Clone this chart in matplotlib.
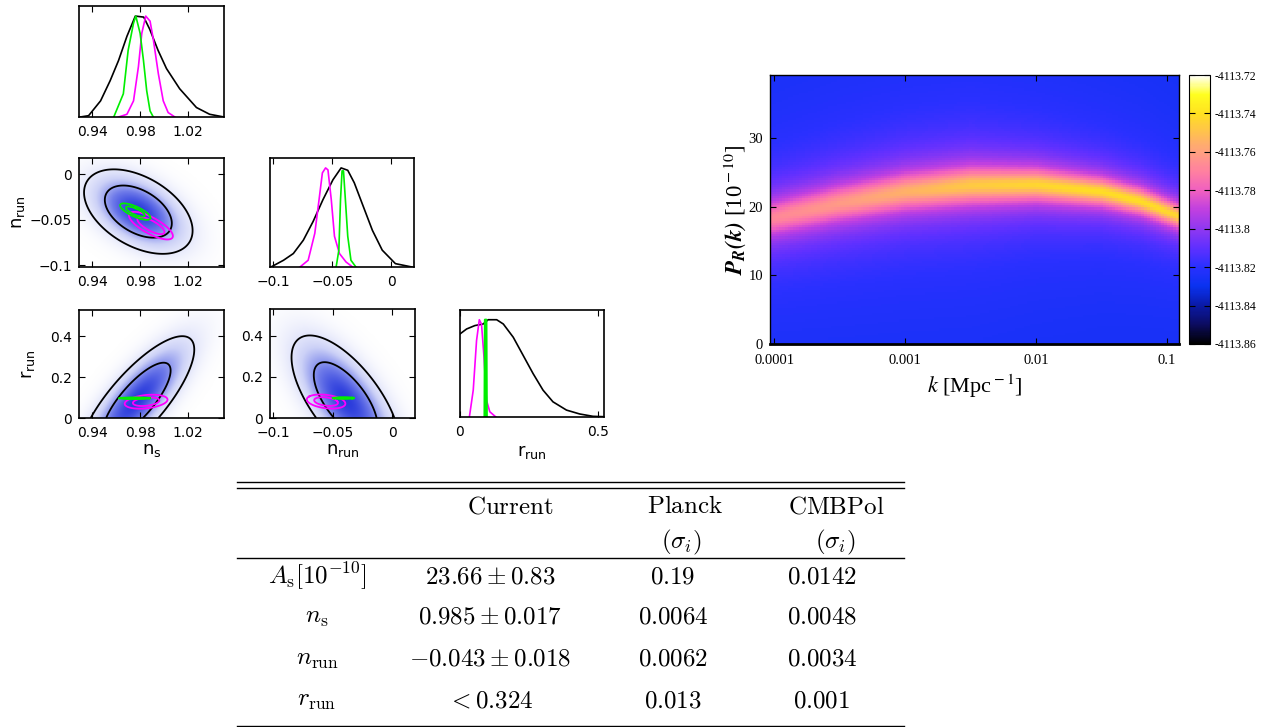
import numpy as np
import matplotlib.pyplot as plt
from matplotlib.colors import LinearSegmentedColormap
from matplotlib.ticker import FuncFormatter, NullLocator

W, H = 1267, 727

# ---- 1D marginals ----
ns_black_x = [0.930, 0.937, 0.947, 0.955, 0.962, 0.969, 0.976, 0.983, 0.988, 0.995, 1.002, 1.013, 1.027, 1.038, 1.050]
ns_black_y = [0.00, 0.013, 0.16, 0.36, 0.56, 0.80, 1.0, 0.99, 0.87, 0.66, 0.48, 0.28, 0.094, 0.027, 0.0]
ns_green_x = [0.958, 0.966, 0.970, 0.9745, 0.9764, 0.980, 0.9828, 0.9855, 0.9883, 0.991]
ns_green_y = [0.0, 0.23, 0.66, 0.93, 1.0, 0.83, 0.56, 0.26, 0.06, 0.0]
ns_mag_x = [0.962, 0.969, 0.9745, 0.9786, 0.9814, 0.9847, 0.9883, 0.991, 0.9952, 0.9993, 1.0034, 1.009]
ns_mag_y = [0.0, 0.027, 0.16, 0.50, 0.83, 1.0, 0.95, 0.77, 0.43, 0.16, 0.044, 0.0]

nrun_black_x = [-0.1017, -0.0911, -0.0828, -0.0744, -0.0661, -0.0578, -0.0494, -0.0425, -0.0369, -0.0314, -0.0244, -0.0161, -0.0078, 0.0033, 0.0172]
nrun_black_y = [0.0, 0.068, 0.136, 0.27, 0.46, 0.68, 0.88, 1.0, 0.976, 0.85, 0.63, 0.37, 0.17, 0.034, 0.0]
nrun_mag_x = [-0.0772, -0.0703, -0.0647, -0.0611, -0.0583, -0.0556, -0.0536, -0.0508, -0.0481, -0.0439, -0.0383, -0.0328]
nrun_mag_y = [0.0, 0.068, 0.34, 0.68, 0.95, 1.0, 0.98, 0.68, 0.31, 0.136, 0.05, 0.0]
nrun_green_x = [-0.0467, -0.0444, -0.043, -0.0417, -0.0405, -0.0389, -0.0369, -0.0342, -0.030]
nrun_green_y = [0.0, 0.17, 0.68, 0.97, 0.97, 0.68, 0.31, 0.068, 0.0]

r_black_x = [0.0, 0.024, 0.054, 0.084, 0.102, 0.133, 0.157, 0.193, 0.229, 0.265, 0.301, 0.337, 0.386, 0.434, 0.482, 0.522]
r_black_y = [0.854, 0.905, 0.94, 0.956, 1.0, 1.0, 0.956, 0.82, 0.633, 0.446, 0.276, 0.156, 0.071, 0.031, 0.007, 0.003]
r_mag_x = [0.034, 0.048, 0.060, 0.070, 0.078, 0.087, 0.096, 0.108, 0.130]
r_mag_y = [0.0, 0.276, 0.786, 1.0, 0.956, 0.616, 0.173, 0.054, 0.0]
r_green_x = [0.089, 0.0905, 0.0955, 0.097]
r_green_y = [0.0, 1.0, 1.0, 0.0]

# ---- 2D posteriors: (mean_x, mean_y, sigma_x, sigma_y, rho) ----
ns_nrun_black = (0.9785, -0.041, 0.0185, 0.019, -0.45)
ns_nrun_green = (0.976, -0.041, 0.0052, 0.0037, -0.75)
ns_nrun_mag = (0.989, -0.0565, 0.0075, 0.0062, -0.75)
# black r-panels: x | r ~ N(a + b r, s), r ~ N(mu, sig) cut at r = 0
ns_r_black = (0.967, 0.12, 0.0125, 0.085, 0.135)
nrun_r_black = (-0.031, -0.095, 0.0145, 0.085, 0.135)
ns_r_green = (0.9755, 0.097, 0.0052, 0.0015, 0.0)
ns_r_mag = (0.985, 0.08, 0.0073, 0.014, 0.3)
nrun_r_green = (-0.041, 0.097, 0.0037, 0.0015, 0.0)
nrun_r_mag = (-0.0555, 0.08, 0.0066, 0.014, -0.3)

ns_ticks = [0.94, 0.98, 1.02]
ns_labels = ['0.94', '0.98', '1.02']
nrun_ticks = [-0.1, -0.05, 0]
nrun_labels = ['\u22120.1', '\u22120.05', '0']
r_ticks = [0, 0.2, 0.4]
r_labels = ['0', '0.2', '0.4']

# ---- P_R(k) band ----
band_logk = [-4.03, -3.5, -3.0, -2.5, -2.0, -1.5, -1.2, -0.91]
band_center = [18.3, 20.5, 22.2, 23.1, 23.2, 22.2, 20.8, 18.6]
band_width = [2.3, 2.3, 2.2, 2.05, 1.75, 1.5, 1.4, 1.3]
band_peak = [-4113.768, -4113.762, -4113.755, -4113.747, -4113.743, -4113.741, -4113.741, -4113.743]
band_bg = -4113.829
k_ticks = [1e-4, 1e-3, 1e-2, 1e-1]
k_tick_labels = ['0.0001', '0.001', '0.01', '0.1']
P_ticks = [0, 10, 20, 30]
cbar_ticks = [-4113.86, -4113.84, -4113.82, -4113.80, -4113.78, -4113.76, -4113.74, -4113.72]

# ---- table ----
row_labels = [r'$A_{\rm s}[10^{-10}]$', r'$n_{\rm s}$', r'$n_{\rm run}$', r'$r_{\rm run}$']
current = [r'$23.66\pm0.83$', r'$0.985\pm0.017$', r'$-0.043\pm0.018$', r'$<0.324$']
planck = [r'$0.19$', r'$0.0064$', r'$0.0062$', r'$0.013$']
cmbpol = [r'$0.0142$', r'$0.0048$', r'$0.0034$', r'$0.001$']


def gauss2(X, Y, p):
    mx, my, sx, sy, rho = p
    dx = (X - mx) / sx
    dy = (Y - my) / sy
    return np.exp(-(dx * dx - 2 * rho * dx * dy + dy * dy) / (2 * (1 - rho * rho)))


def cond_dens(X, R, p):
    a, b, s, mu, sig = p
    return np.exp(-0.5 * ((X - a - b * R) / s) ** 2) * np.exp(-0.5 * ((R - mu) / sig) ** 2)


def mass_levels(Z):
    z = np.sort(Z.ravel())[::-1]
    c = np.cumsum(z) / z.sum()
    return [z[np.searchsorted(c, 0.95)], z[np.searchsorted(c, 0.68)]]


def small_contour(ax, p, color):
    mx, my, sx, sy, rho = p
    x = np.linspace(mx - 6 * sx, mx + 6 * sx, 240)
    y = np.linspace(my - 6 * sy, my + 6 * sy, 240)
    X, Y = np.meshgrid(x, y)
    Z = gauss2(X, Y, p)
    ax.contour(X, Y, Z, levels=mass_levels(Z), colors=color, linewidths=1.3)


blues = LinearSegmentedColormap.from_list('wb', ['#ffffff', '#ccd1f7', '#6f7be9', '#2a3bdc'])


def shade(ax, X, Y, Z):
    ax.imshow((Z / Z.max()) ** 0.6, extent=[X.min(), X.max(), Y.min(), Y.max()], origin='lower',
              aspect='auto', cmap=blues, vmin=0, vmax=1, interpolation='bilinear')
    ax.contour(X, Y, Z, levels=mass_levels(Z), colors='k', linewidths=1.3)


fig = plt.figure(figsize=(W / 100, H / 100), dpi=100)


def px_axes(l, t, r, b):
    return fig.add_axes([l / W, 1 - b / H, (r - l) / W, (b - t) / H])


# table sits on a whole-figure overlay in pixel units
tab = px_axes(0, 0, W, H)
tab.set_xlim(0, W)
tab.set_ylim(H, 0)
tab.axis('off')
for yy in [482, 488, 558, 726]:
    tab.plot([237, 904], [yy, yy], color='k', lw=1.0)
fs = 18
tab.text(510, 506, r'$\rm Current$', ha='center', va='center', fontsize=fs, math_fontfamily='cm')
tab.text(685, 506, r'$\rm Planck$', ha='center', va='center', fontsize=fs, math_fontfamily='cm')
tab.text(836, 506, r'$\rm CMBPol$', ha='center', va='center', fontsize=fs, math_fontfamily='cm')
tab.text(681, 542, r'$(\sigma_i)$', ha='center', va='center', fontsize=fs, math_fontfamily='cm')
tab.text(835, 542, r'$(\sigma_i)$', ha='center', va='center', fontsize=fs, math_fontfamily='cm')
row_y = [576, 617, 659, 700]
for i in range(4):
    tab.text(317, row_y[i], row_labels[i], ha='center', va='center', fontsize=fs, math_fontfamily='cm')
    tab.text(490, row_y[i], current[i], ha='center', va='center', fontsize=fs, math_fontfamily='cm')
    tab.text(673, row_y[i], planck[i], ha='center', va='center', fontsize=fs, math_fontfamily='cm')
    tab.text(822, row_y[i], cmbpol[i], ha='center', va='center', fontsize=fs, math_fontfamily='cm')


def style_tri(ax):
    ax.tick_params(direction='in', top=True, right=True, length=4, width=0.8, labelsize=10)
    ax.tick_params(axis='x', pad=6)
    ax.tick_params(axis='y', pad=5)
    for s in ax.spines.values():
        s.set_linewidth(1.2)


ns_lim = (0.929, 1.050)
nrun_lim = (-0.1025, 0.019)
r_lim = (0, 0.53)

# top: ns 1D
ax = px_axes(79, 6, 224, 117)
ax.plot(ns_black_x, ns_black_y, color='k', lw=1.2)
ax.plot(ns_mag_x, ns_mag_y, color='#ff00ff', lw=1.2)
ax.plot(ns_green_x, ns_green_y, color='#00ee00', lw=1.2)
ax.set_xlim(ns_lim)
ax.set_ylim(0, 1.1)
ax.set_xticks(ns_ticks, ns_labels)
ax.set_yticks([])
style_tri(ax)

# ns vs nrun
ax = px_axes(79, 158, 224, 267)
x = np.linspace(0.88, 1.08, 300)
y = np.linspace(-0.15, 0.07, 300)
X, Y = np.meshgrid(x, y)
shade(ax, X, Y, gauss2(X, Y, ns_nrun_black))
small_contour(ax, ns_nrun_mag, '#ff00ff')
small_contour(ax, ns_nrun_green, '#00ee00')
ax.set_xlim(ns_lim)
ax.set_ylim(-0.102, 0.018)
ax.set_xticks(ns_ticks, ns_labels)
ax.set_yticks(nrun_ticks, nrun_labels)
ax.set_ylabel(r'n$_{\rm run}$', fontsize=13)
ax.yaxis.set_label_coords(-0.36, 0.5)
style_tri(ax)

# nrun 1D
ax = px_axes(270, 158, 414, 267)
ax.plot(nrun_black_x, nrun_black_y, color='k', lw=1.2)
ax.plot(nrun_mag_x, nrun_mag_y, color='#ff00ff', lw=1.2)
ax.plot(nrun_green_x, nrun_green_y, color='#00ee00', lw=1.2)
ax.set_xlim(nrun_lim)
ax.set_ylim(0, 1.1)
ax.set_xticks(nrun_ticks, nrun_labels)
ax.set_yticks([])
style_tri(ax)

# ns vs r
ax = px_axes(79, 310, 224, 418)
x = np.linspace(0.88, 1.12, 300)
r = np.linspace(0, 0.9, 300)
X, R = np.meshgrid(x, r)
shade(ax, X, R, cond_dens(X, R, ns_r_black))
small_contour(ax, ns_r_mag, '#ff00ff')
small_contour(ax, ns_r_green, '#00ee00')
ax.set_xlim(ns_lim)
ax.set_ylim(r_lim)
ax.set_xticks(ns_ticks, ns_labels)
ax.set_yticks(r_ticks, r_labels)
ax.set_ylabel(r'r$_{\rm run}$', fontsize=13)
ax.yaxis.set_label_coords(-0.29, 0.5)
ax.set_xlabel(r'n$_{\rm s}$', fontsize=13)
ax.xaxis.set_label_coords(0.5, -0.215)
style_tri(ax)

# nrun vs r
ax = px_axes(270, 309, 415, 418)
x = np.linspace(-0.2, 0.08, 300)
X, R = np.meshgrid(x, r)
shade(ax, X, R, cond_dens(X, R, nrun_r_black))
small_contour(ax, nrun_r_mag, '#ff00ff')
small_contour(ax, nrun_r_green, '#00ee00')
ax.set_xlim(nrun_lim)
ax.set_ylim(r_lim)
ax.set_xticks(nrun_ticks, nrun_labels)
ax.set_yticks(r_ticks, r_labels)
ax.set_xlabel(r'n$_{\rm run}$', fontsize=13)
ax.xaxis.set_label_coords(0.5, -0.215)
style_tri(ax)

# r 1D
ax = px_axes(460, 310, 604, 417)
ax.plot(r_black_x, r_black_y, color='k', lw=1.2)
ax.plot(r_mag_x, r_mag_y, color='#ff00ff', lw=1.2)
ax.plot(r_green_x, r_green_y, color='#00ee00', lw=1.6)
ax.set_xlim(0, 0.522)
ax.set_ylim(0, 1.1)
ax.set_xticks([0, 0.5], ['0', '0.5'])
ax.set_yticks([])
ax.set_xlabel(r'r$_{\rm run}$', fontsize=13)
ax.xaxis.set_label_coords(0.5, -0.245)
style_tri(ax)

# ---- P_R(k) heat map ----
hm_cmap = LinearSegmentedColormap.from_list('pk', [
    (0.000, '#000000'), (0.071, '#0c0c60'), (0.143, '#0a1aa8'), (0.214, '#0a32f0'),
    (0.286, '#2a30ff'), (0.357, '#6030ff'), (0.429, '#9038f0'), (0.500, '#c040e0'),
    (0.571, '#f060c0'), (0.643, '#ff80a0'), (0.714, '#ffa080'), (0.786, '#ffc050'),
    (0.857, '#ffe020'), (0.929, '#ffff20'), (1.000, '#ffffff')])

ax = px_axes(770, 75, 1179, 344)
logk_edges = np.linspace(-4.032, -0.908, 141)
P_edges = np.linspace(0, 39.2, 121)
lk = 0.5 * (logk_edges[1:] + logk_edges[:-1])
Pc = 0.5 * (P_edges[1:] + P_edges[:-1])
cen = np.interp(lk, band_logk, band_center)
wid = np.interp(lk, band_logk, band_width)
pk = np.interp(lk, band_logk, band_peak)
prof = (1 + ((Pc[:, None] - cen[None, :]) / wid[None, :]) ** 2) ** -0.6
Z = band_bg + (pk - band_bg)[None, :] * prof
mesh = ax.pcolormesh(10 ** logk_edges, P_edges, Z, cmap=hm_cmap, vmin=-4113.86, vmax=-4113.72,
                     shading='flat')
ax.set_xscale('log')
ax.set_xlim(10 ** -4.032, 10 ** -0.908)
ax.set_ylim(0, 39.2)
ax.set_xticks(k_ticks, k_tick_labels)
ax.xaxis.set_minor_locator(NullLocator())
ax.set_yticks(P_ticks, [str(v) for v in P_ticks])
ax.tick_params(direction='in', top=True, right=True, length=4, width=0.8, labelsize=10.5)
ax.tick_params(axis='x', pad=7)
ax.tick_params(axis='y', pad=5)
for lab in ax.get_xticklabels() + ax.get_yticklabels():
    lab.set_fontfamily('Liberation Serif')
for s in ax.spines.values():
    s.set_linewidth(1.0)
ax.spines['bottom'].set_linewidth(2.0)
ax.set_xlabel(r'$k$ [Mpc$^{\rm -1}$]', fontsize=16, fontfamily='Liberation Serif', math_fontfamily='stix')
ax.set_ylabel(r'$\mathbfit{P}_{\mathbfit{R}}\mathbfit{(k)}$ [10$^{\rm -10}$]', fontsize=16.5,
              fontfamily='Liberation Serif', math_fontfamily='stix', labelpad=0)

cax = px_axes(1189, 75, 1210, 344)
cb = fig.colorbar(mesh, cax=cax)
cb.set_ticks(cbar_ticks)
cax.yaxis.set_major_formatter(FuncFormatter(lambda v, p: '%g' % v))
cax.tick_params(direction='in', left=True, right=True, length=4, width=0.8, labelsize=8.5, pad=3)
for lab in cax.get_yticklabels():
    lab.set_fontfamily('Liberation Serif')
cb.outline.set_linewidth(0.8)

fig.savefig('out.png', dpi=100)
